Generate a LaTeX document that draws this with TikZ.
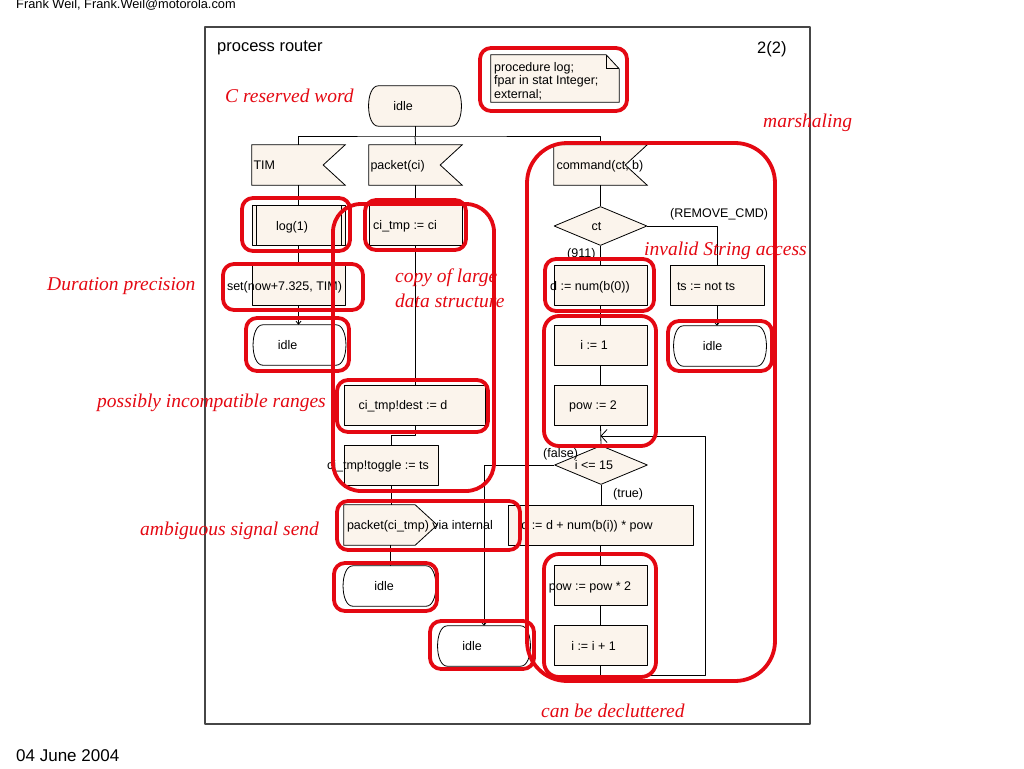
\documentclass[tikz,border=0pt]{standalone}
\usepackage{fontspec}
\setmainfont{Liberation Sans}
\newfontfamily\annfont{Liberation Serif}
\usetikzlibrary{shapes.geometric,arrows.meta,backgrounds}
\definecolor{boxfill}{RGB}{251,244,236}
\definecolor{hl}{RGB}{228,8,18}
\definecolor{framec}{RGB}{70,70,70}
\newcommand\tx[2][24pt]{\makebox[0pt]{\hspace*{-#1}#2}}
\newcommand\lx[2][45pt]{\makebox[0pt][l]{\hspace*{-#1}#2}}
\begin{document}
\begin{tikzpicture}[x=1pt,y=-1pt,
 txtbase/.style={font=\fontsize{12.5}{14}\selectfont, inner sep=0pt, text height=9.5pt, text depth=0pt},
 task/.style={txtbase, draw, line width=0.8pt, fill=boxfill, minimum width=93pt, minimum height=40pt},
 shp/.style={txtbase, minimum width=93pt, minimum height=40pt},
 cond/.style={txtbase, diamond, draw, line width=0.8pt, fill=boxfill, minimum width=93pt, minimum height=39pt},
 lbl/.style={font=\fontsize{12.5}{14}\selectfont, inner sep=0pt, anchor=base west},
 hdr/.style={inner sep=0pt, anchor=base west},
 ann/.style={font=\annfont\itshape\fontsize{19.5}{22}\selectfont, text=hl, inner sep=0pt, anchor=base west},
 hlbox/.style={draw=hl, line width=3.8pt, rounded corners=11pt},
 wire/.style={draw, line width=0.8pt},
 outl/.style={draw, line width=0.8pt},
 tip/.style={-{Straight Barb[length=3pt,width=5pt]}},
 line join=round]
\useasboundingbox (0,0) rectangle (1024,768);

% frame and header texts
\draw[framec, line width=1.2pt] (205,27) rectangle (810,724);
\node[hdr, font=\fontsize{12.8}{14}\selectfont] (author) at (16,9) {Frank Weil, Frank.Weil@motorola.com};
\node[hdr, font=\fontsize{17}{19}\selectfont] (date) at (16,761) {04 June 2004};
\node[hdr, font=\fontsize{16.5}{18}\selectfont] (title) at (217,52) {process router};
\node[hdr, font=\fontsize{16.5}{18}\selectfont] (page) at (757,53) {2(2)};

% nodes
\node[inner sep=0pt, minimum width=128pt, minimum height=47pt] (note) at (555,78.5) {};
\node[font=\fontsize{12.5}{13.5}\selectfont, inner sep=0pt, align=left, anchor=north west] (notetxt) at (494,62) {procedure log;\\fpar in stat Integer;\\external;};
\node[shp] (idle1) at (415,106) {\tx{idle}};
\node[shp] (tim) at (298.5,165) {\lx[45pt]{TIM}};
\node[shp] (pkt) at (415.5,165) {\lx{packet(ci)}};
\node[shp] (cmd) at (600.5,165) {\lx[44pt]{command(ct, b)}};
\node[task] (log) at (298.5,225.5) {\tx[13pt]{log(1)}};
\node[task] (citmp) at (415.5,225) {\tx[21pt]{ci\_tmp := ci}};
\node[cond] (ct) at (600.5,226) {\tx[8pt]{ct}};
\node[task] (set) at (298.5,285.5) {\tx[28pt]{set(now+7.325, TIM)}};
\node[task] (dnum) at (600.5,285.5) {\tx[21pt]{d := num(b(0))}};
\node[task, minimum width=94pt] (ts) at (717,285.5) {\tx[22pt]{ts := not ts}};
\node[shp] (idleL) at (299.5,345) {\tx{idle}};
\node[task] (ione) at (600.5,345) {\tx[13pt]{i := 1}};
\node[shp] (idleR) at (720,346) {\tx[15pt]{idle}};
\node[task, minimum width=141pt] (dest) at (414.5,405) {\tx[23pt]{ci\_tmp!dest := d}};
\node[task] (powtwo) at (600.5,405) {\tx[15pt]{pow := 2}};
\node[task, minimum width=94pt] (toggle) at (391,465) {\tx[26pt]{ci\_tmp!toggle := ts}};
\node[cond] (loopc) at (601,465) {\tx[14pt]{i <= 15}};
\node[shp] (send) at (390.5,525) {\lx[43.5pt]{packet(ci\_tmp) via internal}};
\node[task, minimum width=185pt] (dadd) at (600.5,525) {\tx[27pt]{d := d + num(b(i)) * pow}};
\node[shp] (idleM) at (389.5,586) {\tx[11pt]{idle}};
\node[task] (powmul) at (600.5,585.5) {\tx[21pt]{pow := pow * 2}};
\node[shp] (idleF) at (484,646) {\tx{idle}};
\node[task] (inc) at (600.5,645.5) {\tx[14pt]{i := i + 1}};

% special outlines
\begin{scope}[on background layer]
 % note with folded corner
 \draw[outl, fill=boxfill] (note.south west) -- (note.north west) -- ([xshift=-13pt]note.north east) -- ([yshift=-14pt]note.north east) -- (note.south east) -- cycle;
 \draw[outl] ([xshift=-13pt]note.north east) -- ([xshift=-13pt,yshift=-14pt]note.north east) -- ([yshift=-14pt]note.north east);
 % states
 \foreach \n/\f in {idle1/boxfill, idleL/white, idleR/white, idleM/white, idleF/white}{
  \draw[outl, fill=\f] ([xshift=10pt]\n.north west) -- ([xshift=-10pt]\n.north east)
   .. controls ([xshift=3pt]\n.north east) and ([xshift=3pt]\n.south east) .. ([xshift=-10pt]\n.south east)
   -- ([xshift=10pt]\n.south west)
   .. controls ([xshift=-3pt]\n.south west) and ([xshift=-3pt]\n.north west) .. ([xshift=10pt]\n.north west) -- cycle;
 }
 % inputs
 \foreach \n in {tim, pkt, cmd}{
  \draw[outl, fill=boxfill] (\n.north west) -- (\n.north east) -- ([xshift=-22pt]\n.east) -- (\n.south east) -- (\n.south west) -- cycle;
 }
 % output
 \draw[outl, fill=boxfill] (send.north west) -- ([xshift=-22pt]send.north east) -- (send.east) -- ([xshift=-22pt]send.south east) -- (send.south west) -- cycle;
\end{scope}

% procedure call bars
\draw[outl] ([xshift=4.5pt]log.north west) -- ([xshift=4.5pt]log.south west)
 ([xshift=-4.5pt]log.north east) -- ([xshift=-4.5pt]log.south east);

% connectors
\coordinate (bus) at (415,136);
\coordinate (loopR) at (705,436);
\draw[wire] (idle1.south) -- (bus);
\draw[wire] (tim.north) |- (bus) -| (cmd.north);
\draw[wire] (bus) -- (pkt.north);
\draw[wire] (tim.south) -- (log.north);
\draw[wire] (log.south) -- (set.north);
\draw[wire,tip] (set.south) -- (set.south |- idleL.north);
\draw[wire] (pkt.south) -- (citmp.north);
\draw[wire] (citmp.south) -- (citmp.south |- dest.north);
\draw[wire] (dest.south -| citmp.south) -- ++(0,10) -| (toggle.north);
\draw[wire] (toggle.south) -- (toggle.south |- send.north);
\draw[wire,tip] (send.south) -- (send.south |- idleM.north);
\draw[wire] (cmd.south) -- (ct.north);
\draw[wire] (ct.south) -- (dnum.north);
\draw[wire] (ct.east) -| (ts.north);
\draw[wire,tip] (ts.south) -- (ts.south |- idleR.north);
\draw[wire] (dnum.south) -- (ione.north);
\draw[wire] (ione.south) -- (powtwo.north);
\draw[wire] (powtwo.south) -- (loopc.north);
\draw[wire,tip] (loopc.west) -| (idleF.north);
\draw[wire] (loopc.south) -- (loopc.south |- dadd.north);
\draw[wire] (dadd.south -| powmul.north) -- (powmul.north);
\draw[wire] (powmul.south) -- (inc.north);
\draw[wire, -{Straight Barb[length=6pt,width=13pt]}] (inc.south) -- ++(0,9) -| (loopR) -- (loopR -| powtwo.south);

% branch labels
\node[lbl] (lrem) at (670,217) {(REMOVE\_CMD)};
\node[lbl] (l911) at (567,257) {(911)};
\node[lbl] (lfalse) at (543,457) {(false)};
\node[lbl] (ltrue) at (613,497) {(true)};

% annotations
\node[ann] (a1) at (225,102) {C reserved word};
\node[ann] (a2) at (763,127) {marshaling};
\node[ann] (a3) at (644,255) {invalid String access};
\node[ann] (a4) at (47,290) {Duration precision};
\node[ann] (a5) at (395,282) {copy of large};
\node[ann] (a6) at (395,307) {data structure};
\node[ann] (a7) at (97,407) {possibly incompatible ranges};
\node[ann] (a8) at (140,535) {ambiguous signal send};
\node[ann] (a9) at (541,717) {can be decluttered};

% red highlight boxes
\draw[hlbox] (480,48) rectangle (627,111);
\draw[hlbox] (242,198) rectangle (350,251);
\draw[hlbox] (365,200) rectangle (466,250);
\draw[hlbox, rounded corners=28pt] (333,204) rectangle (494,491);
\draw[hlbox] (223,264) rectangle (363,310);
\draw[hlbox] (246,318) rectangle (349,371);
\draw[hlbox] (337,380) rectangle (488,432);
\draw[hlbox] (337,501) rectangle (520,550);
\draw[hlbox] (334,563) rectangle (437,611);
\draw[hlbox] (430,621) rectangle (534,669);
\draw[hlbox, rounded corners=40pt] (527,143) rectangle (775,681);
\draw[hlbox] (545,259) rectangle (654,311);
\draw[hlbox, rounded corners=15pt] (544,316) rectangle (656,446);
\draw[hlbox] (668,321) rectangle (772,371);
\draw[hlbox, rounded corners=15pt] (544,554) rectangle (656,677);
\end{tikzpicture}
\end{document}
